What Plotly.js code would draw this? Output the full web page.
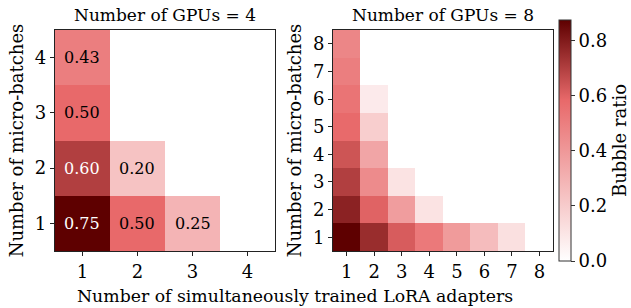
<!DOCTYPE html>
<html>
<head>
<meta charset="utf-8">
<script src="https://cdn.plot.ly/plotly-3.0.1.min.js"></script>
<style>html,body{margin:0;padding:0;background:#fff}#chart{width:631px;height:308px}</style>
</head>
<body>
<div id="chart"></div>
<script>
// Left panel: Number of GPUs = 4
var adapters4 = [1, 2, 3, 4];
var microBatches4 = [1, 2, 3, 4];
// rows = micro-batches 1..4, columns = adapters 1..4
var bubble4 = [
  [0.75, 0.50, 0.25, null],
  [0.60, 0.20, null, null],
  [0.50, null, null, null],
  [0.43, null, null, null]
];
// Right panel: Number of GPUs = 8
var adapters8 = [1, 2, 3, 4, 5, 6, 7, 8];
var microBatches8 = [1, 2, 3, 4, 5, 6, 7, 8];
var bubble8 = [
  [0.875, 0.75, 0.62, 0.52, 0.39, 0.26, 0.12, null],
  [0.78, 0.60, 0.38, 0.11, null, null, null, null],
  [0.70, 0.45, 0.11, null, null, null, null, null],
  [0.64, 0.35, null, null, null, null, null, null],
  [0.58, 0.19, null, null, null, null, null, null],
  [0.54, 0.08, null, null, null, null, null, null],
  [0.50, null, null, null, null, null, null, null],
  [0.47, null, null, null, null, null, null, null]
];
var subplotTitles = ["Number of GPUs = 4", "Number of GPUs = 8"];
var xTitle = "Number of simultaneously trained LoRA adapters";
var yTitle = "Number of micro-batches";
var cbTitle = "Bubble ratio";

var scale = [[0, '#ffffff'], [0.667, '#e8696a'], [1, '#5e0000']];
var FONT = 'DejaVu Serif';
var FS = 18;

var traces = [
  {type: 'heatmap', x: adapters4, y: microBatches4, z: bubble4, xaxis: 'x', yaxis: 'y',
   colorscale: scale, zmin: 0, zmax: 0.75, showscale: false, hoverongaps: false},
  {type: 'heatmap', x: adapters8, y: microBatches8, z: bubble8, xaxis: 'x2', yaxis: 'y2',
   colorscale: scale, zmin: 0, zmax: 0.875, showscale: true,
   colorbar: {x: 561/631, xanchor: 'left', xpad: 0, ypad: 0, thickness: 12, len: 241/308, lenmode: 'fraction',
     y: 1 - 261/308, yanchor: 'bottom', outlinewidth: 1, outlinecolor: '#333',
     tickvals: [0, 0.2, 0.4, 0.6, 0.8], ticktext: ['0.0', '0.2', '0.4', '0.6', '0.8'],
     ticks: 'outside', ticklen: 4, tickcolor: '#333',
     tickfont: {family: FONT, size: FS, color: '#000'},
     title: {text: cbTitle, side: 'right', font: {family: FONT, size: FS, color: '#000'}}}}
];

var annotations = [];
for (var i = 0; i < microBatches4.length; i++) {
  for (var j = 0; j < adapters4.length; j++) {
    var v = bubble4[i][j];
    if (v === null) continue;
    annotations.push({x: adapters4[j], y: microBatches4[i], xref: 'x', yref: 'y', text: v.toFixed(2),
      showarrow: false, font: {family: FONT, size: 16, color: v > 0.55 ? '#ffffff' : '#000000'}});
  }
}
annotations.push({text: subplotTitles[0], xref: 'paper', yref: 'paper', x: (55+276)/2/631, y: 1 - 15/308,
  showarrow: false, font: {family: FONT, size: 17, color: '#000'}, xanchor: 'center', yanchor: 'middle'});
annotations.push({text: subplotTitles[1], xref: 'paper', yref: 'paper', x: (334+555)/2/631, y: 1 - 15/308,
  showarrow: false, font: {family: FONT, size: 17, color: '#000'}, xanchor: 'center', yanchor: 'middle'});
annotations.push({text: xTitle, xref: 'paper', yref: 'paper', x: 296/631, y: 1 - 296/308,
  showarrow: false, font: {family: FONT, size: 17.3, color: '#000'}, xanchor: 'center', yanchor: 'middle'});

function axis(domain, n, anchor) {
  return {domain: domain, anchor: anchor, range: [0.5, n + 0.5], tickvals: Array.from({length: n}, (_, k) => k + 1),
    showgrid: false, zeroline: false, showline: true, mirror: true, linecolor: '#222', linewidth: 1,
    ticks: 'outside', ticklen: 4, tickcolor: '#222', tickfont: {family: FONT, size: FS, color: '#000'}};
}

var ydom = [1 - 251/308, 1 - 30/308];
var layout = {
  width: 631, height: 308, margin: {l: 0, r: 0, t: 0, b: 0},
  paper_bgcolor: '#fff', plot_bgcolor: '#fff', showlegend: false,
  font: {family: FONT},
  xaxis: axis([55/631, 276/631], 4, 'y'),
  yaxis: Object.assign(axis(ydom, 4, 'x'), {title: {text: yTitle, standoff: 6, font: {family: FONT, size: FS, color: '#000'}}}),
  xaxis2: axis([334/631, 555/631], 8, 'y2'),
  yaxis2: Object.assign(axis(ydom, 8, 'x2'), {title: {text: yTitle, standoff: 6, font: {family: FONT, size: FS, color: '#000'}}}),
  annotations: annotations
};
Plotly.newPlot('chart', traces, layout, {displayModeBar: false, staticPlot: true});
</script>
</body>
</html>
